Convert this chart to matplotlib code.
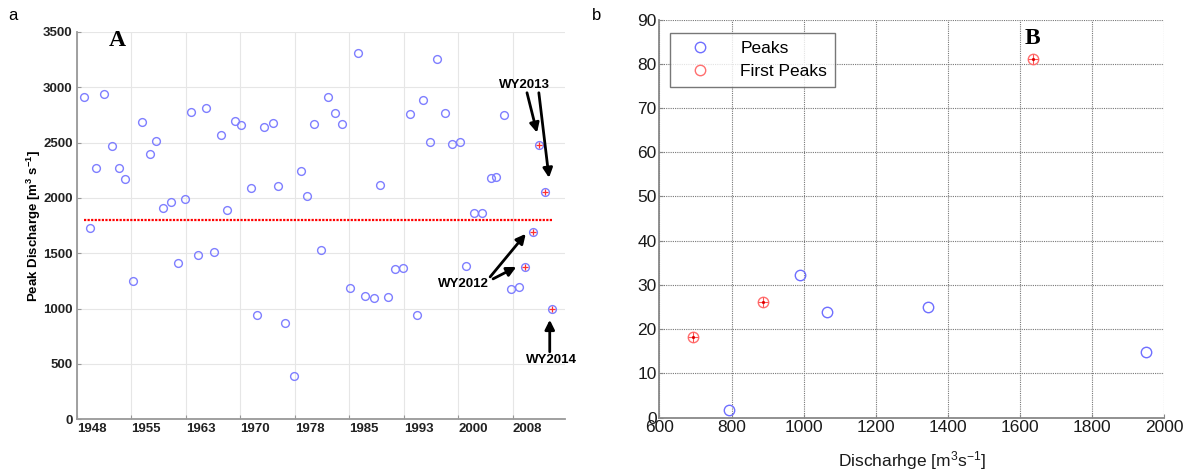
import matplotlib
matplotlib.use("Agg")
import matplotlib.pyplot as plt

plt.rcParams['font.family'] = ['Liberation Sans', 'DejaVu Sans']
plt.rcParams['mathtext.fontset'] = 'custom'
plt.rcParams['mathtext.rm'] = 'Liberation Sans'
plt.rcParams['mathtext.it'] = 'Liberation Sans:italic'
plt.rcParams['mathtext.bf'] = 'Liberation Sans:bold'
plt.rcParams['mathtext.default'] = 'regular'

# ---------------- Panel A data ----------------
peak_time = [1948.96, 1949.83, 1950.66, 1951.80, 1952.86, 1953.86, 1954.65, 1955.71,
             1956.94, 1958.05, 1958.91, 1959.92, 1960.94, 1961.98, 1962.90, 1963.77,
             1964.65, 1965.79, 1966.89, 1967.86, 1968.72, 1969.78, 1970.65, 1971.94,
             1972.77, 1973.82, 1974.97, 1975.70, 1976.66, 1977.90, 1978.82, 1979.69,
             1980.70, 1981.62, 1982.54, 1983.54, 1984.47, 1985.65, 1986.75, 1987.63,
             1988.87, 1989.74, 1990.88, 1991.80, 1992.94, 1993.82, 1994.83, 1995.70,
             1996.62, 1997.58, 1998.68, 1999.64, 2000.79, 2001.57, 2002.63, 2003.77,
             2004.97, 2005.66, 2006.76, 2007.76, 2008.86]
peak_q = [2911, 1733, 2270, 2939, 2471, 2267, 2170, 1248,
          2691, 2399, 2511, 1905, 1965, 1411, 1995, 2773,
          1489, 2815, 1516, 2565, 1890, 2697, 2658, 2086,
          946, 2637, 2682, 2107, 868, 389, 2245, 2016,
          2670, 1528, 2911, 2764, 2670, 1190, 3309, 1118,
          1097, 2116, 1103, 1362, 1371, 2755, 940, 2881,
          2502, 3255, 2767, 2487, 2502, 1383, 1866, 1860,
          2179, 2188, 2746, 1181, 1194]
recent_time = [2009.69, 2010.75, 2011.66, 2012.44, 2013.40]
recent_q = [1380, 1694, 2475, 2053, 1001]
threshold = 1800
year_ticks = [1948, 1955.5, 1963, 1970.5, 1978, 1985.5, 1993, 2000.5, 2008]
year_labels = ['1948', '1955', '1963', '1970', '1978', '1985', '1993', '2000', '2008']

# ---------------- Panel B data ----------------
peaks_x = [793, 989, 1064, 1346, 1950]
peaks_y = [1.7, 32.2, 24.0, 25.0, 14.9]
first_x = [692, 887, 1635]
first_y = [18.2, 26.2, 81.0]

W, H = 1195, 475
fig = plt.figure(figsize=(W / 100, H / 100), dpi=100)

# ---------------- Panel A ----------------
axA = fig.add_axes([76.7 / W, 1 - 419.3 / H, (565 - 76.7) / W, (419.3 - 32) / H])
blue = '#7f7fff'
axA.plot(peak_time + recent_time, peak_q + recent_q, 'o', mfc='none', mec=blue,
         ms=5.6, mew=1.0, zorder=3)
axA.plot(recent_time, recent_q, '+', color='#ff3030', ms=4, mew=0.9, zorder=4)
axA.plot([peak_time[0], recent_time[-1]], [threshold, threshold], color='#ff0000',
         lw=1.6, ls=(0, (1, 0.6)), zorder=2)
axA.set_xlim(1948, 2015.2)
axA.set_ylim(0, 3500)
axA.set_yticks(range(0, 3501, 500))
axA.set_xticks(year_ticks)
axA.set_xticklabels(year_labels, ha='left')
axA.grid(True, color='#e6e6e6', lw=0.8)
axA.set_axisbelow(True)
for s in ['top', 'right']:
    axA.spines[s].set_visible(False)
for s in ['left', 'bottom']:
    axA.spines[s].set_color('#999999')
    axA.spines[s].set_linewidth(1.3)
axA.tick_params(direction='in', length=3, color='#999999', labelsize=9.5, pad=3)
for lab in axA.get_xticklabels() + axA.get_yticklabels():
    lab.set_fontweight('bold')
    lab.set_color('#222222')
axA.set_ylabel(r'Peak Discharge [m$^{\mathbf{3}}$ s$^{\mathbf{-1}}$]', fontsize=9.5,
               fontweight='bold', labelpad=0)
axA.text(1953.6, 3520, 'A', fontsize=17, fontweight='bold', family='Liberation Serif',
         ha='center', va='top')

arrow_kw = dict(arrowstyle='-|>', color='black', lw=2.0, mutation_scale=14,
                shrinkA=0, shrinkB=0)
axA.text(2009.6, 3023, 'WY2013', fontsize=9.5, fontweight='bold', ha='center', va='center')
axA.annotate('', xy=(2011.35, 2590), xytext=(2009.97, 2951), arrowprops=arrow_kw)
axA.annotate('', xy=(2013.0, 2182), xytext=(2011.6, 2951), arrowprops=arrow_kw)
axA.text(2001.2, 1224, 'WY2012', fontsize=9.5, fontweight='bold', ha='center', va='center')
axA.annotate('', xy=(2009.8, 1676), xytext=(2004.9, 1287), arrowprops=arrow_kw)
axA.annotate('', xy=(2008.5, 1377), xytext=(2005.3, 1269), arrowprops=arrow_kw)
axA.text(2013.3, 537, 'WY2014', fontsize=9.5, fontweight='bold', ha='center', va='center')
axA.annotate('', xy=(2013.1, 899), xytext=(2013.1, 610), arrowprops=arrow_kw)

fig.text(13 / W, 1 - 16 / H, 'a', fontsize=12, ha='center', va='center')
fig.text(597 / W, 1 - 16 / H, 'b', fontsize=12, ha='center', va='center')

# ---------------- Panel B ----------------
axB = fig.add_axes([659.4 / W, 1 - 417.7 / H, (1164.3 - 659.4) / W, (417.7 - 19.5) / H])
axB.plot(peaks_x, peaks_y, 'o', mfc='none', mec='#6f6fff', ms=7.5, mew=1.0,
         label='Peaks', zorder=3)
axB.plot(first_x, first_y, 'o', mfc='none', mec='#ff6f6f', ms=7.5, mew=1.0,
         label='First Peaks', zorder=3)
axB.plot(first_x, first_y, '+', color='#ff5050', ms=7, mew=0.8, zorder=4)
axB.plot(first_x, first_y, '.', color='#dd0000', ms=2.5, zorder=5)
axB.set_xlim(600, 2000)
axB.set_ylim(0, 90)
axB.set_xticks(range(600, 2001, 200))
axB.set_yticks(range(0, 91, 10))
axB.grid(True, color='#777777', lw=0.8, ls=(0, (1, 1)))
axB.set_axisbelow(True)
for s in ['top', 'right']:
    axB.spines[s].set_visible(False)
for s in ['left', 'bottom']:
    axB.spines[s].set_color('#888888')
    axB.spines[s].set_linewidth(1.3)
axB.tick_params(direction='in', length=3, color='#888888', labelsize=12.5, pad=2,
                labelcolor='#1a1a1a')
axB.set_xlabel(r'Discharhge [m$^3$s$^{-1}$]', fontsize=12.5, color='#1a1a1a', labelpad=10)
axB.text(1635, 88, 'B', fontsize=17, fontweight='bold', family='Liberation Serif',
         ha='center', va='top')
leg = axB.legend(loc='upper left', bbox_to_anchor=(0.021, 0.966), borderaxespad=0,
                 fontsize=12.5, frameon=True, fancybox=False, edgecolor='#555555',
                 borderpad=0.45, handletextpad=1.0, handlelength=2.6, labelspacing=0.45)
leg.get_frame().set_linewidth(1.0)

fig.savefig('out.png', dpi=100)
